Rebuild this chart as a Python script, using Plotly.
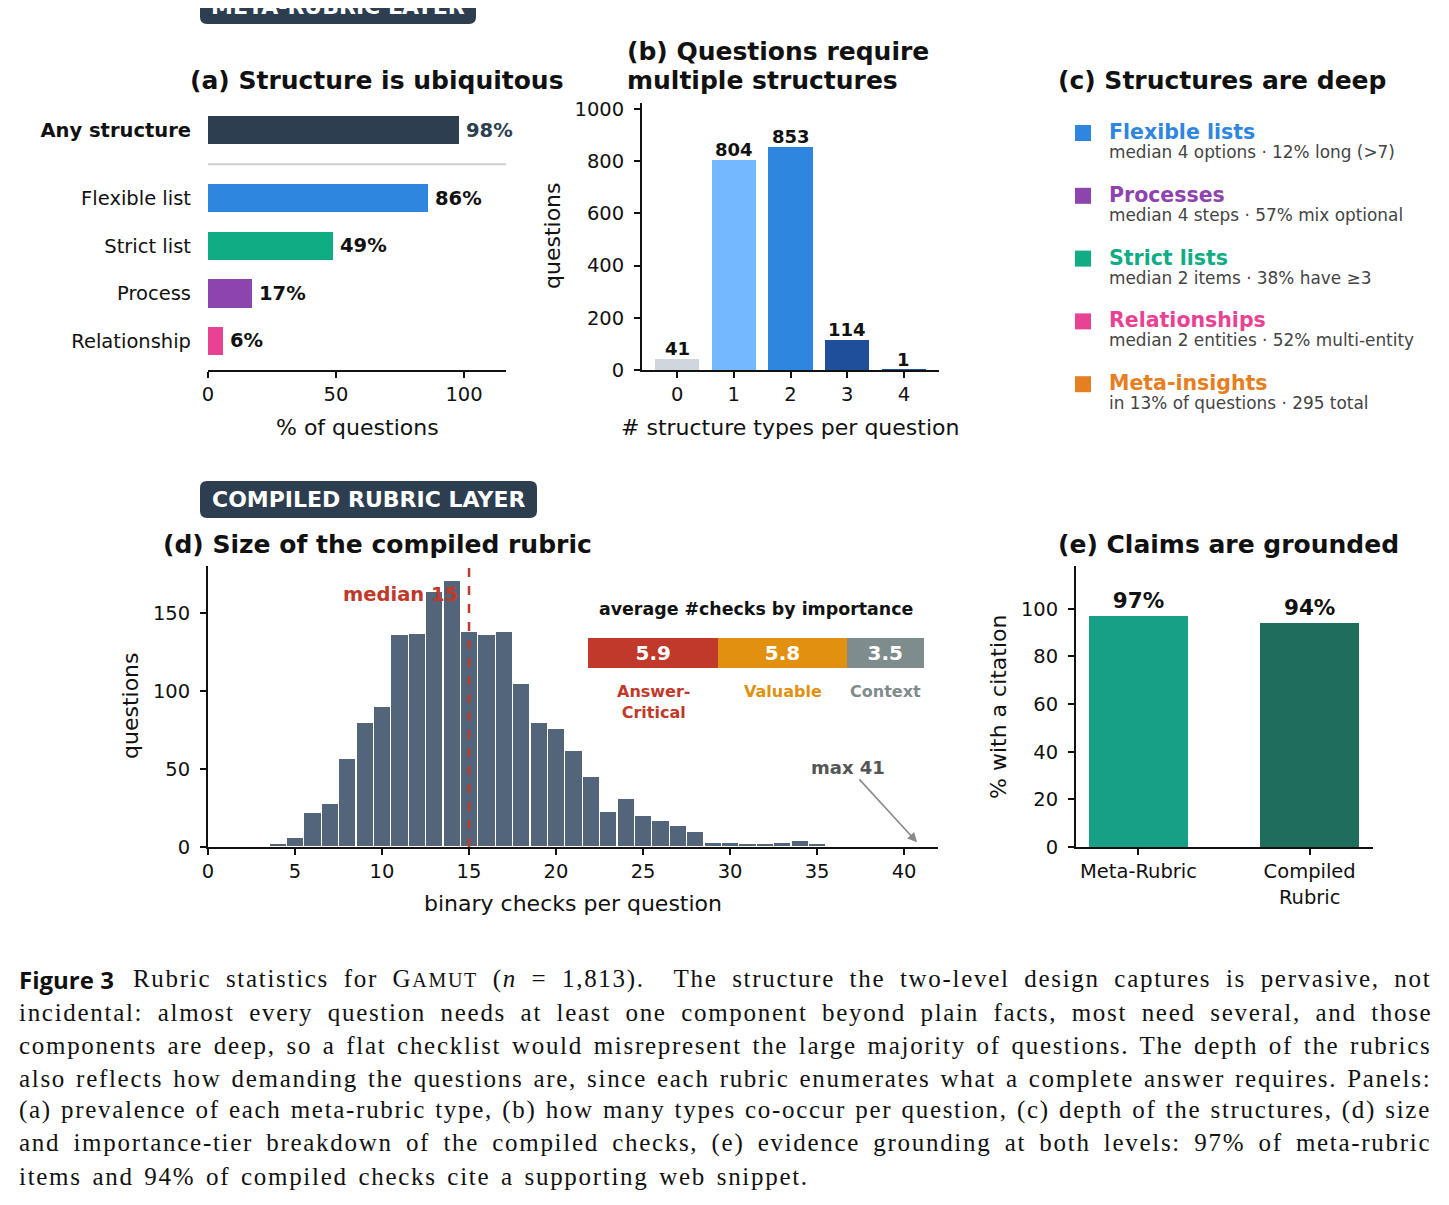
import plotly.graph_objects as go

W, H = 1449, 1205
OFF = 8  # the page body adds an 8px margin; positions below are page pixels
FONT = "DejaVu Sans"
SERIF = "Liberation Serif"
INK = "#111111"

# palette
NAVY = "#2c3e50"
BLUE = "#2e86de"
GREEN = "#10ac84"
PURPLE = "#8e44ad"
PINK = "#e84393"
ORANGE = "#e67e22"
SLATE = "#52657a"
RED = "#c0392b"
AMBER = "#e1900f"
GREY = "#7f8c8d"

# (a) prevalence of each meta-rubric type
prev_labels = ["Any structure", "Flexible list", "Strict list", "Process", "Relationship"]
prev_pct = [98, 86, 49, 17, 6]
prev_colors = [NAVY, BLUE, GREEN, PURPLE, PINK]
prev_pos = [4.43, 3, 2, 1, 0]

# (b) structure types per question
n_types = [0, 1, 2, 3, 4]
n_questions = [41, 804, 853, 114, 1]
type_colors = ["#cfd6de", "#74b9ff", "#2e86de", "#1f4f9b", "#1f4f9b"]

# (c) depth of structures
struct_names = ["Flexible lists", "Processes", "Strict lists", "Relationships", "Meta-insights"]
struct_notes = [
    "median 4 options · 12% long (>7)",
    "median 4 steps · 57% mix optional",
    "median 2 items · 38% have ≥3",
    "median 2 entities · 52% multi-entity",
    "in 13% of questions · 295 total",
]
struct_colors = [BLUE, PURPLE, GREEN, PINK, ORANGE]

# (d) binary checks per question
checks = list(range(3, 42))
check_counts = [1, 2, 6, 22, 28, 57, 80, 90, 136, 137,
                164, 171, 138, 136, 138, 105, 80, 76, 62, 45,
                23, 31, 20, 17, 14, 10, 3, 3, 2, 2,
                3, 4, 2, 0, 1, 1, 1, 1, 1]
median_checks = 15
max_checks = 41

tiers = ["Answer-<br>Critical", "Valuable", "Context"]
tier_avg = [5.9, 5.8, 3.5]
tier_colors = [RED, AMBER, GREY]

# (e) grounding
levels = ["Meta-Rubric", "Compiled<br>Rubric"]
cite_pct = [97, 94]
level_colors = ["#17a085", "#1f6e5b"]

# caption lines with the word spacing used to justify each one
caption_lines = [
    ("Rubric statistics for G<span style='font-size:20px'>AMUT</span> (<i>n</i> = 1,813).  The structure the two-level design captures is pervasive, not", 6.7),
    ("incidental: almost every question needs at least one component beyond plain facts, most need several, and those", 6.6),
    ("components are deep, so a flat checklist would misrepresent the large majority of questions. The depth of the rubrics", 2.75),
    ("also reflects how demanding the questions are, since each rubric enumerates what a complete answer requires. Panels:", 2.1),
    ("(a) prevalence of each meta-rubric type, (b) how many types co-occur per question, (c) depth of the structures, (d) size", 1.25),
    ("and importance-tier breakdown of the compiled checks, (e) evidence grounding at both levels: 97% of meta-rubric", 5.3),
    ("items and 94% of compiled checks cite a supporting web snippet.", 2.8),
]


def px_x(p):
    return (p - OFF) / W


def px_y(p):
    return 1 - (p - OFF) / H


def badge_path(x0, y0, x1, y1, r=7):
    # rounded rectangle given in pixels, returned as a paper-space path
    rx, ry = r / W, r / H
    a, b, c, d = px_x(x0), px_y(y1), px_x(x1), px_y(y0)
    return (f"M{a+rx},{b} L{c-rx},{b} Q{c},{b} {c},{b+ry} L{c},{d-ry} Q{c},{d} {c-rx},{d} "
            f"L{a+rx},{d} Q{a},{d} {a},{d-ry} L{a},{b+ry} Q{a},{b} {a+rx},{b} Z")


fig = go.Figure()

# (a)
fig.add_trace(go.Bar(
    x=prev_pct, y=prev_pos, orientation="h", width=0.6,
    marker=dict(color=prev_colors, line_width=0),
    xaxis="x", yaxis="y", hoverinfo="skip"))

# (b)
fig.add_trace(go.Bar(
    x=n_types, y=n_questions, width=0.78, marker=dict(color=type_colors, line_width=0),
    xaxis="x2", yaxis="y2", hoverinfo="skip"))

# (c)
fig.add_trace(go.Scatter(
    x=[0] * len(struct_names), y=list(range(len(struct_names))), mode="markers",
    marker=dict(symbol="square", size=16, color=struct_colors, line_width=0),
    xaxis="x3", yaxis="y3", hoverinfo="skip"))

# (d)
fig.add_trace(go.Bar(
    x=checks, y=check_counts, width=1, marker=dict(color=SLATE, line=dict(color="white", width=1.2)),
    xaxis="x4", yaxis="y4", hoverinfo="skip"))

# (d) inset: average checks per importance tier
for name, v, c in zip(tiers, tier_avg, tier_colors):
    fig.add_trace(go.Bar(
        x=[v], y=[0], orientation="h", width=1, marker=dict(color=c, line_width=0),
        text=[f"<b>{v}</b>"], textposition="inside", insidetextanchor="middle",
        textfont=dict(family=FONT, size=20, color="white"), constraintext="none",
        xaxis="x5", yaxis="y5", hoverinfo="skip"))

# (e)
fig.add_trace(go.Bar(
    x=[0, 1], y=cite_pct, width=0.58, marker=dict(color=level_colors, line_width=0),
    text=[f"<b>{v}%</b>" for v in cite_pct], textposition="outside",
    textfont=dict(family=FONT, size=21.5, color=INK), constraintext="none",
    cliponaxis=False, xaxis="x6", yaxis="y6", hoverinfo="skip"))

spine = dict(showline=True, linecolor=INK, linewidth=1.8, ticks="outside", ticklen=6,
             tickwidth=1.8, tickcolor=INK, showgrid=False, zeroline=False, automargin=False,
             tickfont=dict(family=FONT, size=19.5, color=INK))
yspine = dict(spine, ticklabelstandoff=6)
hidden = dict(visible=False, showgrid=False, zeroline=False, automargin=False)

fig.update_layout(
    template="none",
    width=W, height=H, margin=dict(l=0, r=0, t=0, b=0, pad=0, autoexpand=False),
    paper_bgcolor="white", plot_bgcolor="rgba(0,0,0,0)",
    showlegend=False, barmode="stack",
    font=dict(family=FONT, color=INK),
    xaxis=dict(spine, domain=[px_x(208), px_x(506)], range=[0, 116.4], anchor="y",
               tickvals=[0, 50, 100]),
    yaxis=dict(domain=[px_y(370), px_y(103)], range=[-0.61, 5.0], anchor="x",
               showline=False, showgrid=False, zeroline=False, ticks="", automargin=False,
               tickvals=prev_pos, ticklabelstandoff=16,
               ticktext=[f"<b>{prev_labels[0]}</b>"] + prev_labels[1:],
               tickfont=dict(family=FONT, size=19.5, color=INK)),
    xaxis2=dict(spine, domain=[px_x(642), px_x(939)], range=[-0.62, 4.62], anchor="y2",
                tickvals=n_types),
    yaxis2=dict(yspine, domain=[px_y(370), px_y(103)], range=[0, 1023], anchor="x2",
                tickvals=[0, 200, 400, 600, 800, 1000]),
    xaxis3=dict(hidden, domain=[px_x(1060), px_x(1440)], range=[-23, 357], anchor="y3"),
    yaxis3=dict(hidden, domain=[px_y(420), px_y(100)], range=[4.570, -0.5255], anchor="x3"),
    xaxis4=dict(spine, domain=[px_x(208), px_x(938)], range=[0, 41.95], anchor="y4",
                tickvals=[0, 5, 10, 15, 20, 25, 30, 35, 40]),
    yaxis4=dict(yspine, domain=[px_y(847), px_y(566)], range=[0, 180], anchor="x4",
                tickvals=[0, 50, 100, 150]),
    xaxis5=dict(hidden, domain=[px_x(588), px_x(924)], range=[0, sum(tier_avg)], anchor="y5"),
    yaxis5=dict(hidden, domain=[px_y(668), px_y(638)], range=[-0.5, 0.5], anchor="x5"),
    xaxis6=dict(spine, domain=[px_x(1076), px_x(1373)], range=[-0.365, 1.37], anchor="y6",
                tickvals=[0, 1], ticktext=levels),
    yaxis6=dict(yspine, domain=[px_y(847), px_y(566)], range=[0, 118], anchor="x6",
                tickvals=[0, 20, 40, 60, 80, 100]),
)

ann = []


def text(x, y, s, size, color=INK, bold=False, xanchor="center", angle=0, family=FONT):
    ann.append(dict(x=px_x(x), y=px_y(y), xref="paper", yref="paper", showarrow=False,
                    text=f"<b>{s}</b>" if bold else s, xanchor=xanchor, yanchor="middle",
                    textangle=angle, font=dict(family=family, size=size, color=color)))


# panel titles
text(377, 80, "(a) Structure is ubiquitous", 25, bold=True)
text(625, 52, "(b) Questions require", 25, bold=True, xanchor="left")
text(625, 80, "multiple structures", 25, bold=True, xanchor="left")
text(1222, 80, "(c) Structures are deep", 25, bold=True)
text(378, 544, "(d) Size of the compiled rubric", 25, bold=True)
text(1228, 544, "(e) Claims are grounded", 25, bold=True)

# axis titles
text(357, 427, "% of questions", 22)
text(552, 236, "questions", 22, angle=-90)
text(790, 427, "# structure types per question", 22)
text(130, 706, "questions", 22, angle=-90)
text(573, 903, "binary checks per question", 22)
text(998, 706, "% with a citation", 22, angle=-90)

# (a) value labels and separator between the summary bar and the individual types
for v, p, k in zip(prev_pct, prev_pos, range(len(prev_pct))):
    ann.append(dict(x=v, y=p, xref="x", yref="y", text=f"<b>{v}%</b>", showarrow=False,
                    xanchor="left", yanchor="middle", xshift=5,
                    font=dict(family=FONT, size=19.5, color=NAVY if k == 0 else INK)))
fig.add_shape(type="line", xref="x domain", yref="y", x0=0, x1=1,
              y0=(prev_pos[0] + prev_pos[1]) / 2, y1=(prev_pos[0] + prev_pos[1]) / 2,
              line=dict(color="#cfcfcf", width=2))

# (b) count labels on top of the bars
for t, v in zip(n_types, n_questions):
    ann.append(dict(x=t, y=v, xref="x2", yref="y2", text=f"<b>{v}</b>", showarrow=False,
                    xanchor="center", yanchor="bottom", yshift=-2,
                    font=dict(family=FONT, size=18, color=INK)))

# (c) legend-like descriptions
for i, (nm, note, c) in enumerate(zip(struct_names, struct_notes, struct_colors)):
    ann.append(dict(x=24, y=i, xref="x3", yref="y3", text=f"<b>{nm}</b>", showarrow=False,
                    xanchor="left", yanchor="middle", yshift=1,
                    font=dict(family=FONT, size=20.5, color=c)))
    ann.append(dict(x=24, y=i, xref="x3", yref="y3", text=note, showarrow=False,
                    xanchor="left", yanchor="middle", yshift=-19,
                    font=dict(family=FONT, size=16.9, color="#444444")))

# (d) median line and labels
fig.add_shape(type="line", xref="x4", yref="y4 domain", x0=median_checks, x1=median_checks,
              y0=0, y1=1, line=dict(color=RED, width=2.5, dash="dash"))
ann.append(dict(x=median_checks, y=0.9, xref="x4", yref="y4 domain", showarrow=False,
                text=f"<b>median {median_checks}</b>", xanchor="right", yanchor="middle",
                xshift=-9, font=dict(family=FONT, size=19.5, color=RED)))
ann.append(dict(x=max_checks - 0.25, y=3, xref="x4", yref="y4", ax=max_checks - 4.2, ay=51,
                axref="x4", ayref="y4", text=f"<b>max {max_checks}</b>", showarrow=True,
                arrowhead=2, arrowsize=1.2, arrowwidth=1.6, arrowcolor="#8a8a8a",
                font=dict(family=FONT, size=18, color="#555555")))

# inset title and tier labels
text(756, 609, "average #checks by importance", 17.4, bold=True)
start = 0
for name, v, c in zip(tiers, tier_avg, tier_colors):
    ann.append(dict(x=start + v / 2, y=px_y(680), xref="x5", yref="paper",
                    text=f"<b>{name}</b>", showarrow=False, xanchor="center", yanchor="top",
                    font=dict(family=FONT, size=16, color=c)))
    start += v

# layer badges (the top one runs off the page edge, as in the source figure)
for x0, y0, x1, y1, ty, label in [(200, -14, 476, 24, 6, "META-RUBRIC LAYER"),
                                  (200, 481, 537, 518, 499.5, "COMPILED RUBRIC LAYER")]:
    fig.add_shape(type="path", xref="paper", yref="paper", path=badge_path(x0, y0, x1, y1),
                  fillcolor=NAVY, line_width=0)
    text((x0 + x1) / 2, ty, label, 22, color="white", bold=True)

# caption
ann.append(dict(x=px_x(17), y=px_y(979), xref="paper", yref="paper", showarrow=False,
                text="<b>Figure 3</b>", xanchor="left", yanchor="middle",
                font=dict(family="Open Sans", size=24, color=INK)))
line_y = [979, 1012, 1045, 1078, 1110, 1143, 1176]
for k, ((line, ws), y) in enumerate(zip(caption_lines, line_y)):
    styled = f"<span style='letter-spacing:1.7px;word-spacing:{ws}px'>{line}</span>"
    text(131 if k == 0 else 17, y, styled, 25, family=SERIF, xanchor="left")

fig.update_layout(annotations=ann)
fig.write_html("out.html")
